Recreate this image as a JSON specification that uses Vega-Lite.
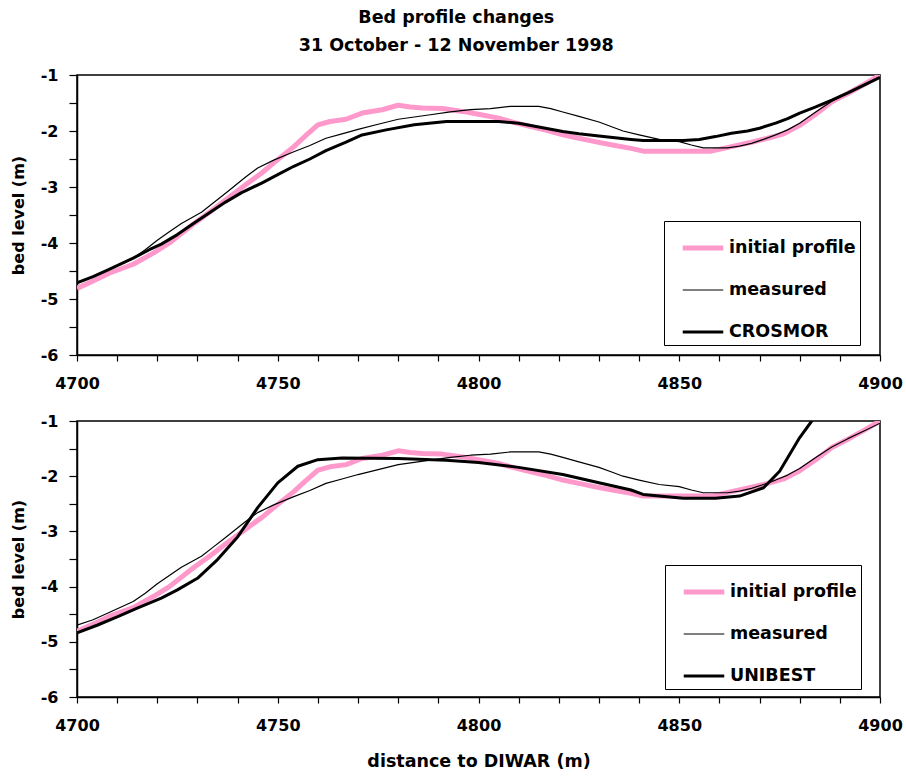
{
  "$schema": "https://vega.github.io/schema/vega-lite/v6.json",
  "background": "white",
  "padding": {"left": 9, "top": 8, "right": 20, "bottom": 4},
  "title": {"text": ["Bed profile changes", "31 October - 12 November 1998"], "fontSize": 17.5, "fontWeight": "bold", "font": "DejaVu Sans", "color": "black", "lineHeight": 28, "anchor": "middle", "offset": 12},
  "data": {"values": [
    {"series": "initial profile", "x": 4700, "y": -4.81},
    {"series": "initial profile", "x": 4704, "y": -4.68},
    {"series": "initial profile", "x": 4708, "y": -4.54},
    {"series": "initial profile", "x": 4714, "y": -4.38},
    {"series": "initial profile", "x": 4719, "y": -4.18},
    {"series": "initial profile", "x": 4723, "y": -4.0},
    {"series": "initial profile", "x": 4729, "y": -3.66},
    {"series": "initial profile", "x": 4733, "y": -3.45},
    {"series": "initial profile", "x": 4737, "y": -3.23},
    {"series": "initial profile", "x": 4742, "y": -2.96},
    {"series": "initial profile", "x": 4746, "y": -2.75},
    {"series": "initial profile", "x": 4749, "y": -2.57},
    {"series": "initial profile", "x": 4754, "y": -2.28},
    {"series": "initial profile", "x": 4757, "y": -2.08},
    {"series": "initial profile", "x": 4760, "y": -1.89},
    {"series": "initial profile", "x": 4763, "y": -1.83},
    {"series": "initial profile", "x": 4767, "y": -1.79},
    {"series": "initial profile", "x": 4771, "y": -1.68},
    {"series": "initial profile", "x": 4776, "y": -1.62},
    {"series": "initial profile", "x": 4780, "y": -1.54},
    {"series": "initial profile", "x": 4783, "y": -1.57},
    {"series": "initial profile", "x": 4786, "y": -1.59},
    {"series": "initial profile", "x": 4791, "y": -1.6},
    {"series": "initial profile", "x": 4796, "y": -1.65},
    {"series": "initial profile", "x": 4800, "y": -1.7},
    {"series": "initial profile", "x": 4805, "y": -1.77},
    {"series": "initial profile", "x": 4809, "y": -1.85},
    {"series": "initial profile", "x": 4813, "y": -1.92},
    {"series": "initial profile", "x": 4817, "y": -1.99},
    {"series": "initial profile", "x": 4821, "y": -2.07},
    {"series": "initial profile", "x": 4825, "y": -2.13},
    {"series": "initial profile", "x": 4829, "y": -2.19},
    {"series": "initial profile", "x": 4834, "y": -2.26},
    {"series": "initial profile", "x": 4838, "y": -2.31},
    {"series": "initial profile", "x": 4841, "y": -2.36},
    {"series": "initial profile", "x": 4850, "y": -2.36},
    {"series": "initial profile", "x": 4858, "y": -2.36},
    {"series": "initial profile", "x": 4863, "y": -2.28},
    {"series": "initial profile", "x": 4868, "y": -2.2},
    {"series": "initial profile", "x": 4872, "y": -2.13},
    {"series": "initial profile", "x": 4876, "y": -2.05},
    {"series": "initial profile", "x": 4880, "y": -1.9},
    {"series": "initial profile", "x": 4884, "y": -1.7},
    {"series": "initial profile", "x": 4888, "y": -1.48},
    {"series": "initial profile", "x": 4892, "y": -1.33},
    {"series": "initial profile", "x": 4896, "y": -1.17},
    {"series": "initial profile", "x": 4900, "y": -1.0},
    {"series": "measured", "x": 4700, "y": -4.7},
    {"series": "measured", "x": 4704, "y": -4.6},
    {"series": "measured", "x": 4708, "y": -4.47},
    {"series": "measured", "x": 4714, "y": -4.27},
    {"series": "measured", "x": 4717, "y": -4.12},
    {"series": "measured", "x": 4720, "y": -3.95},
    {"series": "measured", "x": 4723, "y": -3.8},
    {"series": "measured", "x": 4726, "y": -3.65},
    {"series": "measured", "x": 4731, "y": -3.45},
    {"series": "measured", "x": 4734, "y": -3.28},
    {"series": "measured", "x": 4737, "y": -3.11},
    {"series": "measured", "x": 4742, "y": -2.82},
    {"series": "measured", "x": 4745, "y": -2.66},
    {"series": "measured", "x": 4749, "y": -2.52},
    {"series": "measured", "x": 4754, "y": -2.37},
    {"series": "measured", "x": 4758, "y": -2.26},
    {"series": "measured", "x": 4762, "y": -2.13},
    {"series": "measured", "x": 4766, "y": -2.05},
    {"series": "measured", "x": 4770, "y": -1.97},
    {"series": "measured", "x": 4775, "y": -1.88},
    {"series": "measured", "x": 4780, "y": -1.79},
    {"series": "measured", "x": 4784, "y": -1.75},
    {"series": "measured", "x": 4788, "y": -1.71},
    {"series": "measured", "x": 4793, "y": -1.66},
    {"series": "measured", "x": 4798, "y": -1.62},
    {"series": "measured", "x": 4803, "y": -1.6},
    {"series": "measured", "x": 4808, "y": -1.56},
    {"series": "measured", "x": 4815, "y": -1.56},
    {"series": "measured", "x": 4818, "y": -1.6},
    {"series": "measured", "x": 4821, "y": -1.66},
    {"series": "measured", "x": 4825, "y": -1.74},
    {"series": "measured", "x": 4830, "y": -1.84},
    {"series": "measured", "x": 4833, "y": -1.92},
    {"series": "measured", "x": 4836, "y": -2.0},
    {"series": "measured", "x": 4840, "y": -2.07},
    {"series": "measured", "x": 4845, "y": -2.15},
    {"series": "measured", "x": 4850, "y": -2.19},
    {"series": "measured", "x": 4853, "y": -2.25},
    {"series": "measured", "x": 4856, "y": -2.3},
    {"series": "measured", "x": 4862, "y": -2.3},
    {"series": "measured", "x": 4865, "y": -2.27},
    {"series": "measured", "x": 4868, "y": -2.22},
    {"series": "measured", "x": 4871, "y": -2.15},
    {"series": "measured", "x": 4874, "y": -2.07},
    {"series": "measured", "x": 4877, "y": -1.98},
    {"series": "measured", "x": 4880, "y": -1.86},
    {"series": "measured", "x": 4884, "y": -1.66},
    {"series": "measured", "x": 4888, "y": -1.47},
    {"series": "measured", "x": 4892, "y": -1.32},
    {"series": "measured", "x": 4896, "y": -1.18},
    {"series": "measured", "x": 4900, "y": -1.04},
    {"series": "CROSMOR", "x": 4700, "y": -4.71},
    {"series": "CROSMOR", "x": 4704, "y": -4.6},
    {"series": "CROSMOR", "x": 4708, "y": -4.47},
    {"series": "CROSMOR", "x": 4714, "y": -4.27},
    {"series": "CROSMOR", "x": 4718, "y": -4.12},
    {"series": "CROSMOR", "x": 4721, "y": -4.02},
    {"series": "CROSMOR", "x": 4725, "y": -3.85},
    {"series": "CROSMOR", "x": 4729, "y": -3.65},
    {"series": "CROSMOR", "x": 4733, "y": -3.46},
    {"series": "CROSMOR", "x": 4737, "y": -3.27},
    {"series": "CROSMOR", "x": 4741, "y": -3.1},
    {"series": "CROSMOR", "x": 4746, "y": -2.93},
    {"series": "CROSMOR", "x": 4750, "y": -2.78},
    {"series": "CROSMOR", "x": 4754, "y": -2.63},
    {"series": "CROSMOR", "x": 4758, "y": -2.5},
    {"series": "CROSMOR", "x": 4762, "y": -2.35},
    {"series": "CROSMOR", "x": 4767, "y": -2.2},
    {"series": "CROSMOR", "x": 4771, "y": -2.07},
    {"series": "CROSMOR", "x": 4777, "y": -1.98},
    {"series": "CROSMOR", "x": 4784, "y": -1.89},
    {"series": "CROSMOR", "x": 4792, "y": -1.83},
    {"series": "CROSMOR", "x": 4800, "y": -1.83},
    {"series": "CROSMOR", "x": 4805, "y": -1.83},
    {"series": "CROSMOR", "x": 4810, "y": -1.86},
    {"series": "CROSMOR", "x": 4815, "y": -1.93},
    {"series": "CROSMOR", "x": 4821, "y": -2.01},
    {"series": "CROSMOR", "x": 4825, "y": -2.05},
    {"series": "CROSMOR", "x": 4830, "y": -2.09},
    {"series": "CROSMOR", "x": 4834, "y": -2.12},
    {"series": "CROSMOR", "x": 4838, "y": -2.15},
    {"series": "CROSMOR", "x": 4841, "y": -2.17},
    {"series": "CROSMOR", "x": 4851, "y": -2.17},
    {"series": "CROSMOR", "x": 4855, "y": -2.15},
    {"series": "CROSMOR", "x": 4859, "y": -2.1},
    {"series": "CROSMOR", "x": 4863, "y": -2.04},
    {"series": "CROSMOR", "x": 4867, "y": -2.0},
    {"series": "CROSMOR", "x": 4870, "y": -1.95},
    {"series": "CROSMOR", "x": 4874, "y": -1.86},
    {"series": "CROSMOR", "x": 4877, "y": -1.78},
    {"series": "CROSMOR", "x": 4880, "y": -1.68},
    {"series": "CROSMOR", "x": 4884, "y": -1.57},
    {"series": "CROSMOR", "x": 4888, "y": -1.45},
    {"series": "CROSMOR", "x": 4892, "y": -1.32},
    {"series": "CROSMOR", "x": 4896, "y": -1.18},
    {"series": "CROSMOR", "x": 4900, "y": -1.04},
    {"series": "UNIBEST", "x": 4700, "y": -4.84},
    {"series": "UNIBEST", "x": 4705, "y": -4.7},
    {"series": "UNIBEST", "x": 4710, "y": -4.55},
    {"series": "UNIBEST", "x": 4715, "y": -4.39},
    {"series": "UNIBEST", "x": 4721, "y": -4.21},
    {"series": "UNIBEST", "x": 4725, "y": -4.06},
    {"series": "UNIBEST", "x": 4730, "y": -3.85},
    {"series": "UNIBEST", "x": 4735, "y": -3.51},
    {"series": "UNIBEST", "x": 4740, "y": -3.1},
    {"series": "UNIBEST", "x": 4745, "y": -2.57},
    {"series": "UNIBEST", "x": 4750, "y": -2.12},
    {"series": "UNIBEST", "x": 4755, "y": -1.82},
    {"series": "UNIBEST", "x": 4760, "y": -1.7},
    {"series": "UNIBEST", "x": 4766, "y": -1.67},
    {"series": "UNIBEST", "x": 4780, "y": -1.68},
    {"series": "UNIBEST", "x": 4792, "y": -1.71},
    {"series": "UNIBEST", "x": 4800, "y": -1.75},
    {"series": "UNIBEST", "x": 4810, "y": -1.84},
    {"series": "UNIBEST", "x": 4821, "y": -1.97},
    {"series": "UNIBEST", "x": 4830, "y": -2.12},
    {"series": "UNIBEST", "x": 4838, "y": -2.25},
    {"series": "UNIBEST", "x": 4841, "y": -2.33},
    {"series": "UNIBEST", "x": 4851, "y": -2.4},
    {"series": "UNIBEST", "x": 4859, "y": -2.4},
    {"series": "UNIBEST", "x": 4865, "y": -2.36},
    {"series": "UNIBEST", "x": 4871, "y": -2.21},
    {"series": "UNIBEST", "x": 4875, "y": -1.91},
    {"series": "UNIBEST", "x": 4880, "y": -1.3},
    {"series": "UNIBEST", "x": 4883, "y": -1.0},
    {"series": "UNIBEST", "x": 4886, "y": -0.62}
  ]},
  "spacing": 20,
  "vconcat": [
    {
      "width": 803,
      "height": 280,
      "transform": [{"filter": {"field": "series", "oneOf": ["initial profile", "measured", "CROSMOR"]}}],
      "mark": {"type": "line", "clip": true, "strokeJoin": "round"},
      "encoding": {
        "x": {"field": "x", "type": "quantitative", "scale": {"domain": [4700, 4900], "nice": false, "zero": false},
          "axis": {"title": null, "values": [4700,4710,4720,4730,4740,4750,4760,4770,4780,4790,4800,4810,4820,4830,4840,4850,4860,4870,4880,4890,4900], "labelExpr": "datum.value % 50 === 0 ? datum.label : ''", "format": "d", "tickSize": 6, "labelPadding": 14, "labelFlush": false, "labelOverlap": false}},
        "y": {"field": "y", "type": "quantitative", "scale": {"domain": [-6, -1], "nice": false, "zero": false},
          "axis": {"title": "bed level (m)", "values": [-6,-5.5,-5,-4.5,-4,-3.5,-3,-2.5,-2,-1.5,-1], "labelExpr": "datum.value % 1 === 0 ? '-' + abs(datum.value) : ''", "tickSize": 8, "labelPadding": 11, "titlePadding": 14, "labelOverlap": false}},
        "color": {"field": "series", "type": "nominal", "scale": {"type": "ordinal", "domain": ["initial profile", "measured", "CROSMOR"], "range": ["#FF99CC", "#000000", "#000000"]}, "legend": {"legendX": 587, "legendY": 146}},
        "strokeWidth": {"field": "series", "type": "nominal", "scale": {"type": "ordinal", "domain": ["initial profile", "measured", "CROSMOR"], "range": [5, 1.2, 3]}, "legend": {"legendX": 587, "legendY": 146}}
      }
    },
    {
      "width": 803,
      "height": 276,
      "transform": [{"filter": {"field": "series", "oneOf": ["initial profile", "measured", "UNIBEST"]}}],
      "mark": {"type": "line", "clip": true, "strokeJoin": "round"},
      "encoding": {
        "x": {"field": "x", "type": "quantitative", "scale": {"domain": [4700, 4900], "nice": false, "zero": false},
          "axis": {"title": "distance to DIWAR (m)", "titleFontSize": 17.5, "values": [4700,4710,4720,4730,4740,4750,4760,4770,4780,4790,4800,4810,4820,4830,4840,4850,4860,4870,4880,4890,4900], "labelExpr": "datum.value % 50 === 0 ? datum.label : ''", "format": "d", "tickSize": 6, "labelPadding": 14, "labelFlush": false, "labelOverlap": false, "titlePadding": 19}},
        "y": {"field": "y", "type": "quantitative", "scale": {"domain": [-6, -1], "nice": false, "zero": false},
          "axis": {"title": "bed level (m)", "values": [-6,-5.5,-5,-4.5,-4,-3.5,-3,-2.5,-2,-1.5,-1], "labelExpr": "datum.value % 1 === 0 ? '-' + abs(datum.value) : ''", "tickSize": 8, "labelPadding": 11, "titlePadding": 14, "labelOverlap": false}},
        "color": {"field": "series", "type": "nominal", "scale": {"type": "ordinal", "domain": ["initial profile", "measured", "UNIBEST"], "range": ["#FF99CC", "#000000", "#000000"]}, "legend": {"legendX": 588, "legendY": 144}},
        "strokeWidth": {"field": "series", "type": "nominal", "scale": {"type": "ordinal", "domain": ["initial profile", "measured", "UNIBEST"], "range": [5, 1.2, 3]}, "legend": {"legendX": 588, "legendY": 144}}
      }
    }
  ],
  "resolve": {"scale": {"color": "independent", "strokeWidth": "independent"}, "legend": {"color": "independent", "strokeWidth": "independent"}},
  "config": {
    "font": "DejaVu Sans",
    "view": {"stroke": "black", "strokeWidth": 1.5},
    "axis": {"grid": false, "domainColor": "black", "domainWidth": 1.5, "tickColor": "black", "tickWidth": 1.2, "labelFont": "DejaVu Sans", "labelFontWeight": "bold", "labelFontSize": 16, "labelColor": "black", "titleFont": "DejaVu Sans", "titleFontWeight": "bold", "titleFontSize": 16, "titleColor": "black"},
    "legend": {"orient": "none", "title": null, "strokeColor": "black", "fillColor": "white", "padding": 4, "labelFont": "DejaVu Sans", "labelFontSize": 17.5, "labelFontWeight": "bold", "labelColor": "black", "symbolType": "stroke", "symbolSize": 1640, "symbolOffset": 12, "rowPadding": 11, "labelOffset": 3}
  }
}
